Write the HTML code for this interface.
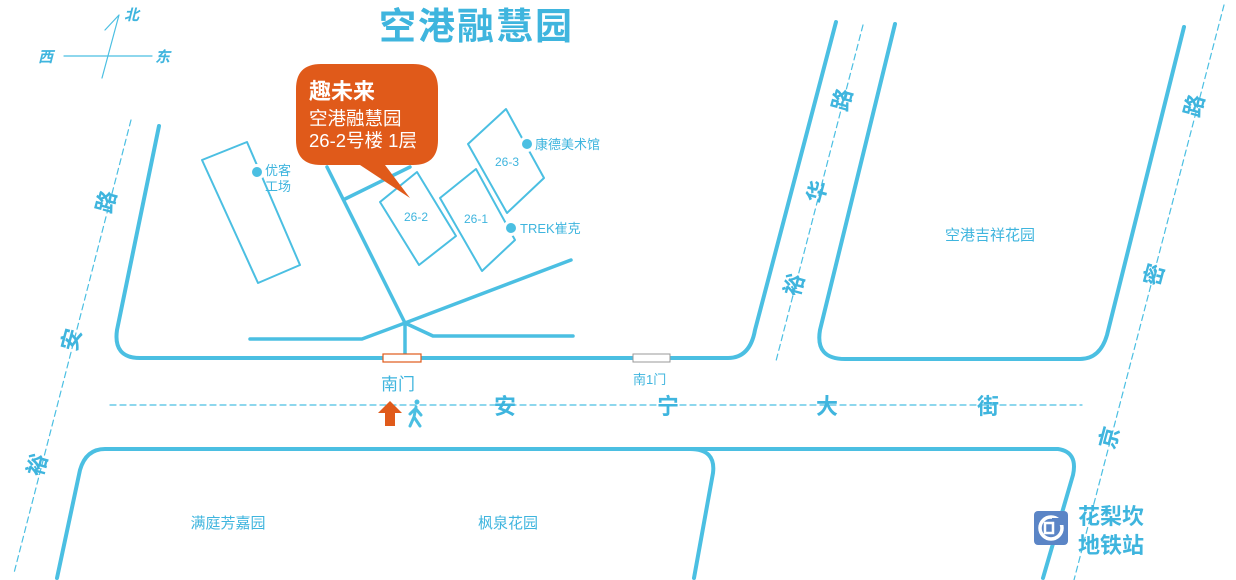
<!DOCTYPE html>
<html><head><meta charset="utf-8"><style>
html,body{margin:0;padding:0;background:#fff;width:1236px;height:580px;overflow:hidden}
svg{display:block}
text{font-family:"Liberation Sans","Noto Sans CJK SC",sans-serif}
</style></head><body>
<svg width="1236" height="580" viewBox="0 0 1236 580" xmlns="http://www.w3.org/2000/svg">
<g fill="none" stroke="#4bbfe2" stroke-linecap="round" stroke-linejoin="round">
 <path d="M159,126 L117,330 Q113,358 140,358 L728,358 Q750,358 755,330 L836,22" stroke-width="4"/>
 <path d="M895,24 L820,330 Q815,359 845,359 L1080,359 Q1100,359 1107,335 L1184,27" stroke-width="4"/>
 <path d="M57,578 L80,470 Q86,449 105,449 L1058,449 Q1078,452 1073,475 L1043,578" stroke-width="4"/>
 <path d="M690,449 Q716,449 713,473 L694,578" stroke-width="4"/>
 <g stroke-width="1.2" stroke-dasharray="6,4">
  <path d="M131,120 L14,573"/>
  <path d="M863,25 L776,361"/>
  <path d="M1224,5 L1074,580"/>
  <path d="M110,405 L1082,405"/>
 </g>
 <g stroke-width="1.2">
  <path d="M64,56 L152,56"/>
  <path d="M102,78 L119,15 L105,30"/>
 </g>
 <g stroke-width="2">
  <path d="M202,160 L247,142 L300,265 L258,283 Z"/>
  <path d="M380,202 L417,172 L456,236 L419,265 Z"/>
  <path d="M440,198 L476,169 L515,240 L482,271 Z"/>
  <path d="M468,144 L506,109 L544,178 L507,213 Z"/>
 </g>
 <g stroke-width="3.5">
  <path d="M327,167 L405,323 L405,358"/>
  <path d="M345,199 L410,167"/>
  <path d="M250,339 L362,339 L405,323 L571,260"/>
  <path d="M405,323 L433,336 L573,336"/>
 </g>
</g>
<rect x="383" y="354" width="38" height="8" fill="#fff" stroke="#e05a1a" stroke-width="1.2"/>
<rect x="633" y="354" width="37" height="8" fill="#fff" stroke="#999" stroke-width="1"/>
<g fill="#4bbfe2" stroke="#fff" stroke-width="3">
 <circle cx="257" cy="172" r="6.5"/>
 <circle cx="527" cy="144" r="6.5"/>
 <circle cx="511" cy="228" r="6.5"/>
</g>
<path d="M321,64 L413,64 Q438,64 438,89 L438,140 Q438,165 413,165 L385,165 L410,198 L360,165 L321,165 Q296,165 296,140 L296,89 Q296,64 321,64 Z" fill="#e05a1a"/>
<g fill="#fff">
 <text x="309" y="99" font-size="22" font-weight="bold">趣未来</text>
 <text x="309" y="125" font-size="18.5">空港融慧园</text>
 <text x="309" y="147" font-size="18.5">26-2号楼 1层</text>
</g>
<g fill="#3fb5de">
 <text x="379" y="39" font-size="37" font-weight="bold" letter-spacing="2">空港融慧园</text>
 <text x="38" y="62" font-size="15" font-weight="bold" font-style="italic">西</text>
 <text x="155" y="62" font-size="15" font-weight="bold" font-style="italic">东</text>
 <text x="124" y="20" font-size="15" font-weight="bold" font-style="italic">北</text>
 <text x="265" y="175" font-size="13">优客</text>
 <text x="265" y="191" font-size="13">工场</text>
 <text x="535" y="149" font-size="13">康德美术馆</text>
 <text x="520" y="233" font-size="13">TREK崔克</text>
 <text x="495" y="166" font-size="12">26-3</text>
 <text x="404" y="221" font-size="12">26-2</text>
 <text x="464" y="223" font-size="12">26-1</text>
 <text x="990" y="240" font-size="15" text-anchor="middle">空港吉祥花园</text>
 <text x="228" y="528" font-size="15" text-anchor="middle">满庭芳嘉园</text>
 <text x="508" y="528" font-size="15" text-anchor="middle">枫泉花园</text>
 <text x="381" y="390" font-size="17">南门</text>
 <text x="633" y="384" font-size="13">南1门</text>
 <g font-size="22" font-weight="bold" text-anchor="middle">
 <text x="505" y="414">安</text>
 <text x="668" y="414">宁</text>
 <text x="827" y="414">大</text>
 <text x="988" y="414">街</text>
 </g>
 <g font-size="22" font-weight="bold" text-anchor="middle">
  <text transform="translate(107,202) rotate(-75)" y="7">路</text>
  <text transform="translate(72,340) rotate(-75)" y="7">安</text>
  <text transform="translate(38,465) rotate(-75)" y="7">裕</text>
  <text transform="translate(843,100) rotate(-75)" y="7">路</text>
  <text transform="translate(818,192) rotate(-75)" y="7">华</text>
  <text transform="translate(795,285) rotate(-75)" y="7">裕</text>
  <text transform="translate(1195,106) rotate(-75)" y="7">路</text>
  <text transform="translate(1155,275) rotate(-75)" y="7">密</text>
  <text transform="translate(1110,438) rotate(-75)" y="7">京</text>
 </g>
 <text x="1078" y="524" font-size="22" font-weight="bold">花梨坎</text>
 <text x="1078" y="553" font-size="22" font-weight="bold">地铁站</text>
</g>
<path d="M378,413 L390,401 L402,413 L395,413 L395,426 L385,426 L385,413 Z" fill="#e05a1a"/>
<g stroke="#4bbfe2" stroke-width="3" fill="none" stroke-linecap="round">
 <circle cx="417" cy="402" r="2.5" fill="#4bbfe2" stroke="none"/>
 <path d="M416,407 L414,417 L410,426 M414,417 L420,426 M416,409 L421,415 M415,409 L410,414"/>
</g>
<rect x="1034" y="511" width="34" height="34" rx="4" fill="#5b85c6"/>
<circle cx="1051" cy="528" r="11" fill="none" stroke="#fff" stroke-width="3.5"/>
<rect x="1052" y="518" width="12" height="7" fill="#5b85c6"/>
<rect x="1045" y="523" width="8" height="10" fill="none" stroke="#fff" stroke-width="2.5"/>
</svg>
</body></html>
